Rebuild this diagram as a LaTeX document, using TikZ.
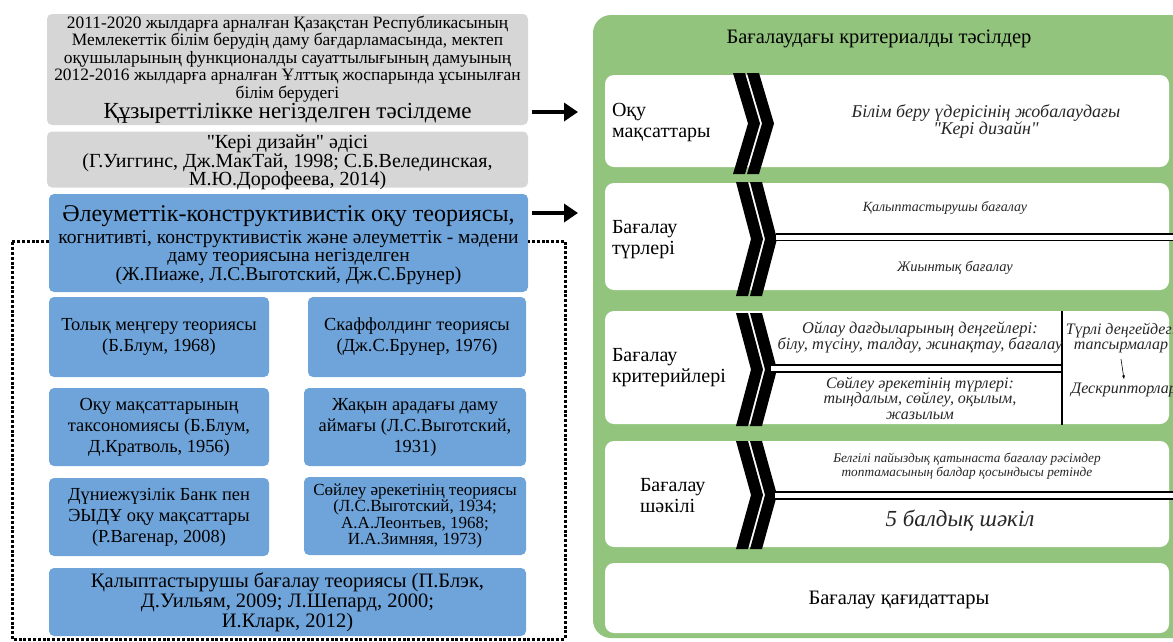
\documentclass[tikz,border=0pt]{standalone}
\usepackage{fontspec}
\setmainfont{Liberation Serif}[Ligatures=TeXOff]
\usetikzlibrary{arrows.meta}

\definecolor{boxgray}{RGB}{214,214,214}
\definecolor{boxblue}{RGB}{111,164,218}
\definecolor{panelgreen}{RGB}{146,196,125}

\newcommand{\fsz}[2]{\fontsize{#1}{#2}\selectfont}
\newcommand{\chevrons}[3]{%
  \foreach \d in {0,14}
    \fill ({#1+\d},#2) -- ++(12,0) -- ({#1+\d+27},{(#2+#3)/2}) -- ({#1+\d+12},#3)
      -- ({#1+\d},#3) -- ({#1+\d+15},{(#2+#3)/2}) -- cycle;}
\AtBeginDocument{\lineskiplimit=-20pt}

\begin{document}
\begin{tikzpicture}[x=1pt,y=-1pt,
  every node/.style={inner sep=0pt,outer sep=0pt},
  graybox/.style={fill=boxgray,rounded corners=5pt,align=center},
  bluebox/.style={fill=boxblue,rounded corners=5pt,align=center,font=\fsz{18.4}{21}},
  whitebox/.style={fill=white,rounded corners=9pt},
  lbl/.style={anchor=west,align=left,font=\fsz{20}{21}},
  itl/.style={align=center,font=\itshape\fsz{16}{15.5},text=black!85},
  bigarr/.style={line width=4pt,-{Triangle[length=14pt,width=18pt]}},
  dotframe/.style={line width=3pt,dash pattern=on 3pt off 1.8pt},
  dline/.style={line width=1.8pt,double=white,double distance=5pt}]
\useasboundingbox (0,0) rectangle (1173,641);
\clip (0,0) rectangle (1173,641);

\node[graybox,minimum width=481pt,minimum height=111pt,font=\fsz{17.4}{17.5}] (comp) at (287.5,69.5)
  {2011-2020 жылдарға арналған Қазақстан Республикасының\\
   Мемлекеттік білім берудің даму бағдарламасында, мектеп\\
   оқушыларының функционалды сауаттылығының дамуының\\
   2012-2016 жылдарға арналған Ұлттық жоспарында ұсынылған\\
   білім берудегі\\[3pt]
   {\fsz{23}{22}Құзыреттілікке негізделген тәсілдеме}};
\node[graybox,minimum width=481pt,minimum height=56pt] (design) at (287.5,159.5) {};
\node[align=center,font=\fsz{20}{18.5}] (designtxt) at (287.5,162.5)
  {"Кері дизайн" әдісі\\(Г.Уиггинс, Дж.МакТай, 1998; С.Б.Велединская,\\М.Ю.Дорофеева, 2014)};
\node[bluebox,minimum width=479pt,minimum height=98pt] (soc) at (288.5,243) {};
\node[align=center,font=\fsz{19.5}{18.2}] (soctxt) at (288.5,245)
  {{\fsz{24}{23}Әлеуметтік-конструктивистік оқу теориясы,}\\[4pt]
   когнитивті, конструктивистік және әлеуметтік - мәдени\\
   даму теориясына негізделген\\(Ж.Пиаже, Л.С.Выготский, Дж.С.Брунер)};

\node[bluebox,minimum width=220pt,minimum height=80pt] (mast) at (159,337) {Толық меңгеру теориясы\\(Б.Блум, 1968)};
\node[bluebox,minimum width=218pt,minimum height=80pt] (scaf) at (417,337) {Скаффолдинг теориясы\\(Дж.С.Брунер, 1976)};
\node[bluebox,minimum width=220pt,minimum height=78pt] (tax) at (159,427) {Оқу мақсаттарының\\таксономиясы (Б.Блум,\\Д.Кратволь, 1956)};
\node[bluebox,minimum width=222pt,minimum height=78pt] (zone) at (415,427) {Жақын арадағы даму\\аймағы (Л.С.Выготский,\\1931)};
\node[bluebox,minimum width=220pt,minimum height=78pt] (bank) at (159,517) {Дүниежүзілік Банк пен\\ЭЫДҰ оқу мақсаттары\\(Р.Вагенар, 2008)};
\node[bluebox,minimum width=222pt,minimum height=78pt,font=\fsz{17}{16.4}] (speech) at (415,516)
  {Сөйлеу әрекетінің теориясы\\(Л.С.Выготский, 1934;\\А.А.Леонтьев, 1968;\\И.А.Зимняя, 1973)};
\node[bluebox,minimum width=477pt,minimum height=68pt,font=\fsz{20.5}{20}] (form) at (287.5,602)
  {Қалыптастырушы бағалау теориясы (П.Блэк,\\Д.Уильям, 2009; Л.Шепард, 2000;\\И.Кларк, 2012)};

\coordinate (dl) at (12,241);
\coordinate (fl) at (12,639);
\coordinate (fr) at (565,639);
\draw[dotframe] (soc.west |- dl) -- (dl) -- (fl) -- (fr) |- (soc.east |- dl);

\fill[panelgreen,rounded corners=18pt] (593,15) rectangle (1230,638);
\node[font=\fsz{20.5}{23}] (title) at (879,39) {Бағалаудағы критериалды тәсілдер};

\node[whitebox,minimum width=564pt,minimum height=92pt] (goals) at (887,121) {};
\node[whitebox,minimum width=564pt,minimum height=107pt] (types) at (887,236.5) {};
\node[whitebox,minimum width=564pt,minimum height=113pt] (crit) at (887,367.5) {};
\node[whitebox,minimum width=564pt,minimum height=106pt] (scale) at (887,494) {};
\node[whitebox,minimum width=564pt,minimum height=70pt] (rules) at (887,598) {};

\coordinate (a1) at (578,112);
\coordinate (a2) at (578,213);
\draw[bigarr,shorten <=4pt] (comp.east |- a1) -- (a1);
\draw[bigarr,shorten <=4pt] (soc.east |- a2) -- (a2);

\node[lbl] (l1) at (612,123) {Оқу\\мақсаттары};
\node[lbl] (l2) at (612,239.5) {Бағалау\\түрлері};
\node[lbl] (l3) at (612,367.5) {Бағалау\\критерийлері};
\node[lbl] (l4) at (640,496) {Бағалау\\шәкілі};

\chevrons{733}{73}{174}
\chevrons{736}{182}{296}
\chevrons{736}{313}{426}
\chevrons{736}{441}{549}

\draw[dline] (776,237) -- (1185,237);
\draw[dline] (771,368.5) -- (1062,368.5);
\draw[line width=2pt] (1062,311) -- (1062,425);
\draw[dline] (775,495.5) -- (1185,495.5);

\node[itl,font=\itshape\fsz{18}{17}] (g1) at (986,121.5) {Білім беру үдерісінің жобалаудағы\\"Кері дизайн"};
\node[itl,font=\itshape\fsz{14}{16}] (t1) at (945,208) {Қалыптастырушы бағалау};
\node[itl,font=\itshape\fsz{14.5}{16}] (t2) at (955,268) {Жиынтық бағалау};
\node[itl,font=\itshape\fsz{16.5}{15.5}] (c1) at (920,337.5) {Ойлау дағдыларының деңгейлері:\\білу, түсіну, талдау, жинақтау, бағалау};
\node[itl] (c2) at (920,398) {Сөйлеу әрекетінің түрлері:\\тыңдалым, сөйлеу, оқылым,\\жазылым};
\node[itl] (task) at (1121,338) {Түрлі деңгейдегі\\тапсырмалар};
\node[itl] (desc) at (1124,390) {Дескрипторлар};
\draw[-{Stealth[length=4pt,width=3pt]},line width=0.6pt] ([yshift=-6pt]task.south) -- ([yshift=4pt]desc.north);
\node[itl,font=\itshape\fsz{13.3}{14.5}] (s1) at (967,466) {Белгілі пайыздық қатынаста бағалау рәсімдер\\топтамасының балдар қосындысы ретінде};
\node[itl,font=\itshape\fsz{23}{20}] (s2) at (960,521) {5 балдық шәкіл};
\node[font=\fsz{20.5}{20}] (r1) at (899,600) {Бағалау қағидаттары};
\end{tikzpicture}
\end{document}
